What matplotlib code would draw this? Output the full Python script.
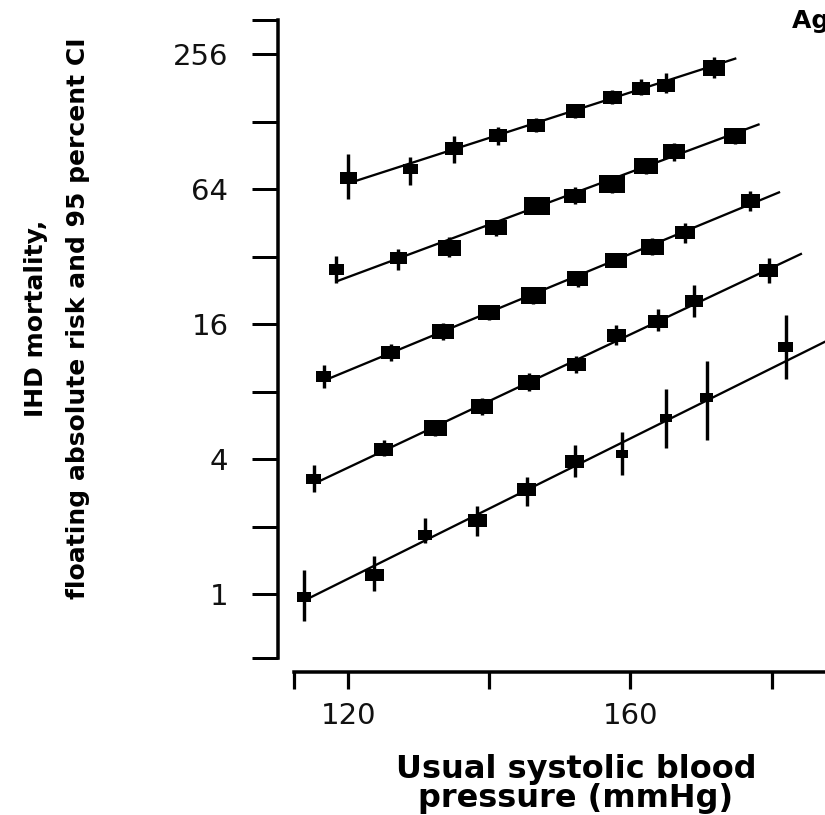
import numpy as np
import matplotlib
matplotlib.use("Agg")
import matplotlib.pyplot as plt
from matplotlib.path import Path
from matplotlib.ticker import NullLocator, FixedLocator, FixedFormatter
from matplotlib import font_manager

# ---------------- data ----------------
# usual systolic blood pressure (mmHg) of each group, five age groups (top to bottom)
sbp_1 = [120.0, 128.8, 135.0, 141.2, 146.6, 152.2, 157.4, 161.5, 165.0, 171.8]
risk_1 = [72.0, 78.4, 97.0, 110.5, 123.3, 142.4, 164.0, 179.9, 184.8, 221.6]
lo_1 = [58.0, 66.5, 84.0, 100.4, 114.7, 132.5, 152.5, 168.0, 171.0, 201.0]
hi_1 = [91.5, 89.0, 110.4, 121.2, 132.6, 153.0, 176.0, 198.0, 210.0, 247.0]

sbp_2 = [118.3, 127.1, 134.3, 141.0, 146.8, 152.1, 157.4, 162.2, 166.2, 174.8]
risk_2 = [28.0, 31.6, 35.0, 43.0, 53.8, 59.6, 67.2, 81.1, 93.7, 110.5]
lo_2 = [24.4, 27.8, 31.9, 39.7, 49.3, 54.6, 61.6, 74.4, 85.4, 102.0]
hi_2 = [32.1, 34.4, 39.2, 46.6, 58.7, 65.0, 73.2, 88.4, 102.8, 119.0]

sbp_3 = [116.5, 126.0, 133.4, 140.0, 146.2, 152.5, 158.0, 163.1, 167.7, 177.0]
risk_3 = [9.35, 11.9, 14.86, 17.95, 21.45, 25.5, 30.8, 35.4, 40.9, 56.6]
lo_3 = [8.30, 10.9, 13.6, 16.6, 19.6, 23.5, 29.5, 32.4, 36.9, 51.1]
hi_3 = [10.55, 12.97, 16.2, 19.4, 23.4, 27.6, 32.1, 38.7, 45.3, 62.7]

sbp_4 = [115.1, 125.0, 132.3, 138.9, 145.6, 152.3, 158.0, 163.9, 169.0, 179.6]
risk_4 = [3.26, 4.40, 5.50, 6.87, 8.74, 10.55, 14.2, 16.47, 20.2, 27.8]
lo_4 = [2.86, 4.11, 5.05, 6.31, 8.02, 9.7, 12.96, 14.86, 17.2, 24.3]
hi_4 = [3.77, 4.88, 5.99, 7.48, 9.69, 11.5, 15.9, 18.6, 24.0, 31.6]

sbp_5 = [113.7, 123.7, 130.9, 138.3, 145.3, 152.1, 158.8, 165.0, 170.8, 182.0]
risk_5 = [0.973, 1.216, 1.835, 2.126, 2.916, 3.90, 4.22, 6.10, 7.49, 12.65]
lo_5 = [0.76, 1.03, 1.685, 1.82, 2.47, 3.32, 3.40, 4.48, 4.84, 9.1]
hi_5 = [1.28, 1.47, 2.18, 2.47, 3.34, 4.63, 5.29, 8.21, 10.9, 17.5]

# fitted regression lines: (start sbp, start risk, end sbp, end risk)
fit_1 = [120.6, 68.8, 175.0, 245.0]
fit_2 = [118.5, 24.9, 178.3, 124.6]
fit_3 = [116.9, 9.04, 181.2, 62.1]
fit_4 = [115.1, 3.10, 184.3, 33.0]
fit_5 = [113.9, 0.94, 187.7, 13.4]

# relative box size (amount of information) for each point
box_1 = [16.5, 14, 17.6, 17.6, 18, 18.7, 18.3, 17.6, 17.6, 21.3]
box_2 = [14.7, 16, 22, 21, 25, 20.5, 24.6, 22, 21, 21.6]
box_3 = [14.7, 18.3, 21, 21, 24, 20, 21, 22, 19, 18.3]
box_4 = [14.7, 18.3, 22, 21, 21, 18.3, 18.3, 18.3, 16.5, 18.3]
box_5 = [13.6, 17.6, 12.8, 18.3, 18.3, 18.3, 11, 11.7, 12.5, 14]

y_ticks = [1, 2, 4, 8, 16, 32, 64, 128, 256]
y_tick_labels = ["1", "", "4", "", "16", "", "64", "", "256"]
x_ticks = [120, 140, 160, 180]
x_tick_labels = ["120", "", "160", ""]

series = [
    (sbp_1, risk_1, lo_1, hi_1, fit_1, box_1),
    (sbp_2, risk_2, lo_2, hi_2, fit_2, box_2),
    (sbp_3, risk_3, lo_3, hi_3, fit_3, box_3),
    (sbp_4, risk_4, lo_4, hi_4, fit_4, box_4),
    (sbp_5, risk_5, lo_5, hi_5, fit_5, box_5),
]

# ---------------- layout ----------------
DPI = 100
W, H = 825, 815
def pt(p):
    return p * 72.0 / DPI

XMIN, XMAX = 110.1, 187.7
XSTART = 112.3
YMIN, YMAX = 2 ** -0.95, 2 ** 8.5

def xpx(x):
    return 348.3 + (x - 120) * 7.055
def ypx(y):
    return 594 - np.log2(y) * 67.5

fig = plt.figure(figsize=(W / DPI, H / DPI), dpi=DPI)
left, right = xpx(XMIN), xpx(XMAX)
top, bottom = ypx(YMAX), ypx(YMIN)
ax = fig.add_axes([left / W, (H - bottom) / H, (right - left) / W, (bottom - top) / H])
ax.set_yscale("log", base=2)
ax.set_xlim(XMIN, XMAX)
ax.set_ylim(YMIN, YMAX)

# rectangular box marker, wider than tall
ASPECT = 1.45
rect = Path([(-0.5, -0.5 / ASPECT), (0.5, -0.5 / ASPECT), (0.5, 0.5 / ASPECT),
             (-0.5, 0.5 / ASPECT), (-0.5, -0.5 / ASPECT)],
            [Path.MOVETO, Path.LINETO, Path.LINETO, Path.LINETO, Path.CLOSEPOLY])

for sbp, risk, lo, hi, fit, box in series:
    ax.plot([fit[0], fit[2]], [fit[1], fit[3]], color="black", lw=pt(2.3),
            solid_capstyle="butt", zorder=2)
    ax.vlines(sbp, lo, hi, color="black", lw=pt(3.4), zorder=3)
    sizes = [(pt(b * 1.05)) ** 2 for b in box]
    ax.scatter(sbp, risk, s=sizes, marker=rect, color="black", linewidths=0, zorder=4)

# spines
for s in ["top", "right"]:
    ax.spines[s].set_visible(False)
ax.spines["left"].set_linewidth(pt(3.5))
ax.spines["bottom"].set_linewidth(pt(3.5))
ax.spines["bottom"].set_position(("outward", pt(14)))
ax.spines["bottom"].set_bounds(XSTART, XMAX)
ax.spines["left"].set_bounds(YMIN, YMAX)

ax.yaxis.set_major_locator(FixedLocator([YMIN] + y_ticks + [YMAX]))
ax.yaxis.set_major_formatter(FixedFormatter([""] + y_tick_labels + [""]))
ax.yaxis.set_minor_locator(NullLocator())
ax.xaxis.set_major_locator(FixedLocator([XSTART] + x_ticks))
ax.xaxis.set_major_formatter(FixedFormatter([""] + x_tick_labels))
ax.xaxis.set_minor_locator(NullLocator())

ax.tick_params(axis="y", direction="out", length=pt(26), width=pt(3), pad=pt(24),
               labelsize=21, labelcolor="#111111")
ax.tick_params(axis="x", direction="out", length=pt(17), width=pt(3.2), pad=pt(13),
               labelsize=21, labelcolor="#111111")

# fonts
names = {f.name for f in font_manager.fontManager.ttflist}
narrow = "Liberation Sans Narrow" if "Liberation Sans Narrow" in names else "DejaVu Sans"
ysize = 23 if narrow != "DejaVu Sans" else 18

fig.text(57 / W, 1 - 318 / H, "IHD mortality,\nfloating absolute risk and 95 percent CI",
         rotation=90, ha="center", va="center", multialignment="center",
         fontsize=ysize, fontweight="bold", family=[narrow, "DejaVu Sans"],
         linespacing=1.9)

fig.text(576 / W, 1 - 754 / H, "Usual systolic blood\npressure (mmHg)",
         ha="center", va="top", multialignment="center",
         fontsize=23, fontweight="bold", family="DejaVu Sans", linespacing=0.9)

fig.text(792 / W, 1 - 28 / H, "Age at risk:", ha="left", va="baseline",
         fontsize=18, fontweight="bold", family="DejaVu Sans")

fig.savefig("out.png", dpi=DPI)
